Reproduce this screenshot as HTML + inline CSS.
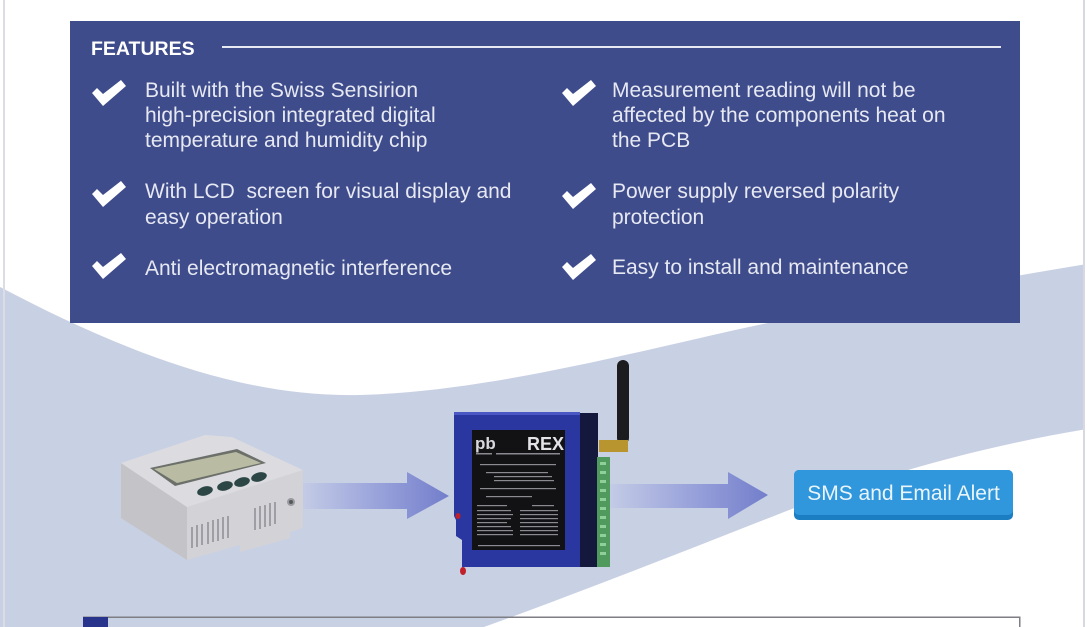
<!DOCTYPE html>
<html><head><meta charset="utf-8">
<style>
html,body{margin:0;padding:0;background:#fff;}
body{width:1087px;height:627px;overflow:hidden;position:relative;}
svg{position:absolute;left:0;top:0;}
text{font-family:"Liberation Sans",sans-serif;}
</style></head>
<body>
<svg width="1087" height="627" viewBox="0 0 1087 627" xmlns="http://www.w3.org/2000/svg">
<defs>
<linearGradient id="ag1" x1="303" y1="0" x2="449" y2="0" gradientUnits="userSpaceOnUse">
<stop offset="0" stop-color="#c3cbe6"/><stop offset="0.6" stop-color="#929cd8"/><stop offset="1" stop-color="#737ecb"/>
</linearGradient>
<linearGradient id="ag2" x1="610" y1="0" x2="768" y2="0" gradientUnits="userSpaceOnUse">
<stop offset="0" stop-color="#c3cbe6"/><stop offset="0.6" stop-color="#929cd8"/><stop offset="1" stop-color="#737ecb"/>
</linearGradient>
<g id="chk"><polygon points="0,13 5,8 11,14 29,0 34,6 11,26" fill="#ffffff"/></g>
</defs>

<!-- background band -->
<path d="M0,287 C120,350 240,398 360,395 C480,392 620,356 735,330 C850,305 960,285 1087,264 L1087,429 C980,447 880,475 784,512 C680,553 560,600 470,632 L0,632 Z" fill="#c8d0e3"/>
<!-- edge lines -->
<rect x="3" y="0" width="2" height="627" fill="#dcdce4"/>
<rect x="1083" y="0" width="2" height="627" fill="#d8d8e0"/>
<rect x="1085" y="0" width="2" height="627" fill="#ffffff"/>

<!-- features box -->
<rect x="70" y="21" width="950" height="302" fill="#3f4c8b"/>
<text x="91" y="55" font-size="19.5" font-weight="bold" fill="#ffffff">FEATURES</text>
<rect x="222" y="46" width="779" height="2" fill="#e6e8f2"/>

<use href="#chk" x="92" y="80"/>
<use href="#chk" x="92" y="181"/>
<use href="#chk" x="92" y="253"/>
<use href="#chk" x="562" y="80"/>
<use href="#chk" x="562" y="183"/>
<use href="#chk" x="562" y="254"/>

<g font-size="21" fill="#e6e8f2">
<text x="145" y="97">Built with the Swiss Sensirion</text>
<text x="145" y="122">high-precision integrated digital</text>
<text x="145" y="147">temperature and humidity chip</text>
<text x="145" y="198">With LCD&#160; screen for visual display and</text>
<text x="145" y="224">easy operation</text>
<text x="145" y="275">Anti electromagnetic interference</text>
<text x="612" y="97">Measurement reading will not be</text>
<text x="612" y="122">affected by the components heat on</text>
<text x="612" y="147">the PCB</text>
<text x="612" y="198">Power supply reversed polarity</text>
<text x="612" y="224">protection</text>
<text x="612" y="274">Easy to install and maintenance</text>
</g>

<!-- arrows -->
<polygon points="303,483 407,483 407,472 449,496 407,519 407,509 303,509" fill="url(#ag1)"/>
<polygon points="610,484 728,484 728,472 768,495 728,519 728,508 610,508" fill="url(#ag2)"/>

<!-- sensor device -->
<g>
<polygon points="121,463 187,507 187,560 121,518" fill="#c3c3c8"/>
<polygon points="187,507 303,470 303,528 290,532 290,538 240,552 240,545 187,560" fill="#d3d3d7"/>
<polygon points="121,463 205,435 232,437 303,470 187,507" fill="#dcdce0"/>
<polygon points="150,468 237,449 266,463 175,486" fill="#6c706a"/>
<polygon points="154,469 236,452 261,463 177,483" fill="#b9bca3"/>
<g fill="#2c4646">
<ellipse cx="205" cy="491" rx="8" ry="4.5" transform="rotate(-15 205 491)"/>
<ellipse cx="225" cy="486" rx="8" ry="4.5" transform="rotate(-15 225 486)"/>
<ellipse cx="242" cy="482" rx="8" ry="4.5" transform="rotate(-15 242 482)"/>
<ellipse cx="259" cy="477" rx="8" ry="4.5" transform="rotate(-15 259 477)"/>
</g>
<g stroke="#8c8c92" stroke-width="1.5">
<line x1="192" y1="527" x2="192" y2="548"/><line x1="197" y1="525" x2="197" y2="547"/>
<line x1="202" y1="524" x2="202" y2="545"/><line x1="208" y1="522" x2="208" y2="544"/>
<line x1="213" y1="520" x2="213" y2="542"/><line x1="218" y1="519" x2="218" y2="541"/>
<line x1="223" y1="517" x2="223" y2="539"/><line x1="228" y1="516" x2="228" y2="538"/>
<line x1="255" y1="508" x2="255" y2="530"/><line x1="260" y1="506" x2="260" y2="529"/>
<line x1="265" y1="505" x2="265" y2="527"/><line x1="270" y1="503" x2="270" y2="526"/>
<line x1="275" y1="502" x2="275" y2="524"/>
</g>
<circle cx="291" cy="502" r="4" fill="#9a9aa0"/><circle cx="291" cy="502" r="2" fill="#55585c"/>
</g>

<!-- REX device -->
<g>
<rect x="617" y="360" width="12" height="84" rx="6" fill="#1c1c1e"/>
<rect x="599" y="440" width="29" height="12" fill="#b8952e"/>
<rect x="578" y="413" width="20" height="154" fill="#14183c"/>
<path d="M454,412 L580,412 L580,567 L462,567 L462,540 L456,536 L456,520 L454,516 Z" fill="#2b37a0"/>
<rect x="454" y="412" width="126" height="3" fill="#4a58c4"/>
<rect x="597" y="457" width="13" height="110" fill="#4f9a5c"/>
<g fill="#8fd09a">
<rect x="600" y="462" width="6" height="3"/><rect x="600" y="471" width="6" height="3"/><rect x="600" y="480" width="6" height="3"/>
<rect x="600" y="489" width="6" height="3"/><rect x="600" y="498" width="6" height="3"/><rect x="600" y="507" width="6" height="3"/>
<rect x="600" y="516" width="6" height="3"/><rect x="600" y="525" width="6" height="3"/><rect x="600" y="534" width="6" height="3"/>
<rect x="600" y="543" width="6" height="3"/><rect x="600" y="552" width="6" height="3"/>
</g>
<rect x="472" y="430" width="93" height="120" fill="#121214"/>
<text x="475" y="449" font-size="17" font-weight="bold" fill="#d8d8dc">pb</text>
<text x="527" y="450" font-size="18" font-weight="bold" fill="#e4e4e8">REX</text>
<g fill="#8a8a90">
<rect x="476" y="453" width="16" height="1.5"/><rect x="496" y="453" width="64" height="1.5"/>
<rect x="480" y="464" width="76" height="1.2"/>
<rect x="486" y="472" width="62" height="1.2"/><rect x="494" y="476" width="58" height="1.2"/><rect x="494" y="480" width="60" height="1.2"/>
<rect x="480" y="488" width="76" height="1.2"/><rect x="486" y="496" width="46" height="1.2"/>
<rect x="477" y="505" width="30" height="1.2"/><rect x="532" y="505" width="22" height="1.2"/>
<rect x="477" y="510" width="34" height="1.2"/><rect x="477" y="514" width="36" height="1.2"/><rect x="477" y="518" width="34" height="1.2"/>
<rect x="477" y="522" width="30" height="1.2"/><rect x="477" y="526" width="34" height="1.2"/><rect x="477" y="530" width="36" height="1.2"/>
<rect x="477" y="534" width="36" height="1.2"/>
<rect x="520" y="510" width="38" height="1.2"/><rect x="520" y="514" width="38" height="1.2"/><rect x="520" y="518" width="38" height="1.2"/>
<rect x="520" y="522" width="38" height="1.2"/><rect x="520" y="526" width="38" height="1.2"/><rect x="520" y="530" width="38" height="1.2"/>
<rect x="520" y="534" width="38" height="1.2"/>
<rect x="478" y="545" width="82" height="1.2"/>
</g>
<ellipse cx="458" cy="516" rx="2.5" ry="3" fill="#c0202a"/>
<ellipse cx="463" cy="571" rx="3" ry="4" fill="#c0202a"/>
</g>

<!-- button -->
<rect x="794" y="470" width="219" height="50" rx="5" fill="#1b7ec3"/>
<rect x="794" y="470" width="219" height="45" rx="5" fill="#3097dc"/>
<text x="903.5" y="500" font-size="21" fill="#eaf4fb" text-anchor="middle">SMS and Email Alert</text>

<!-- bottom box -->
<rect x="83" y="616.5" width="937" height="1.5" fill="#7e7e84"/>
<rect x="1019" y="616.5" width="1.5" height="11" fill="#7e7e84"/>
<rect x="83" y="617" width="25" height="10" fill="#28348c"/>
</svg>
</body></html>
